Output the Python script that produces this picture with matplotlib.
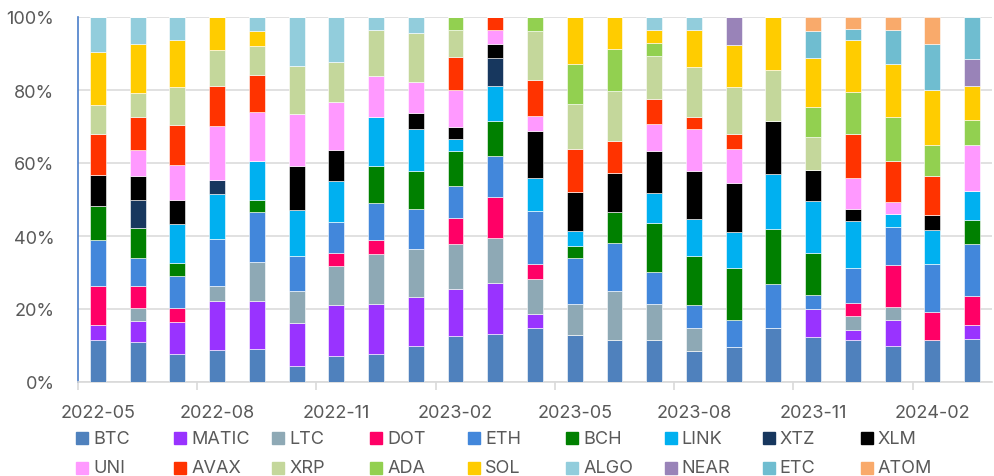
import matplotlib
matplotlib.use("Agg")
import matplotlib.pyplot as plt
import numpy as np
import pandas as pd
from matplotlib.patches import Rectangle

months = [str(p) for p in pd.period_range("2022-05", "2024-03", freq="M")]

series_names = ["BTC", "MATIC", "LTC", "DOT", "ETH", "BCH", "LINK", "XTZ", "XLM",
                "UNI", "AVAX", "XRP", "ADA", "SOL", "ALGO", "NEAR", "ETC", "ATOM"]

BTC   = [11.4, 10.9, 7.6, 8.7, 9.0, 4.4, 7.0, 7.6, 9.8, 12.7, 13.1, 14.7, 12.9, 11.6, 11.6, 8.6, 9.5, 14.8, 12.4, 11.4, 10.0, 11.5, 11.8]
MATIC = [4.2, 5.9, 8.9, 13.5, 13.2, 11.8, 14.2, 13.9, 13.6, 12.9, 14.1, 3.8, 0, 0, 0, 0, 0, 0, 7.5, 2.9, 7.1, 0, 3.7]
LTC   = [0, 3.4, 0, 4.2, 10.6, 8.8, 10.6, 13.7, 13.1, 12.2, 12.3, 9.8, 8.4, 13.2, 9.7, 6.2, 0, 0, 0, 3.7, 3.5, 0, 0]
DOT   = [10.6, 6.0, 3.7, 0, 0, 0, 3.6, 3.7, 0, 7.1, 11.1, 4.0, 0, 0, 0, 0, 0, 0, 0, 3.7, 11.6, 7.8, 8.1]
ETH   = [12.7, 7.8, 8.8, 12.7, 13.6, 9.4, 8.4, 10.1, 10.9, 8.9, 11.2, 14.4, 12.7, 13.3, 8.8, 6.2, 7.6, 12.1, 3.9, 9.4, 10.4, 13.1, 14.2]
BCH   = [9.2, 8.1, 3.7, 0, 3.5, 0, 0, 10.3, 10.4, 9.5, 9.6, 0, 3.4, 8.4, 13.6, 13.5, 14.1, 15.1, 11.5, 0, 0, 0, 6.6]
LINK  = [0, 0, 10.5, 12.4, 10.6, 12.7, 11.2, 13.5, 11.6, 3.4, 9.6, 9.0, 4.0, 0, 8.1, 10.1, 9.8, 15.0, 14.3, 13.1, 3.6, 9.4, 7.8]
XTZ   = [0, 7.9, 0, 3.9, 0, 0, 0, 0, 0, 0, 7.7, 0, 0, 0, 0, 0, 0, 0, 0, 0, 0, 0, 0]
XLM   = [8.7, 6.5, 6.7, 0, 0, 12.2, 8.6, 0, 4.4, 3.2, 3.9, 13.1, 10.8, 10.7, 11.5, 13.1, 13.7, 14.3, 8.3, 3.3, 0, 4.1, 0]
UNI   = [0, 7.1, 9.6, 14.6, 13.4, 14.1, 13.1, 11.0, 8.4, 10.0, 3.9, 4.0, 0, 0, 7.4, 11.7, 9.3, 0, 0, 8.3, 3.1, 0, 12.8]
AVAX  = [11.1, 8.9, 11.0, 11.0, 10.2, 0, 0, 0, 0, 9.2, 3.5, 9.9, 11.7, 8.9, 6.8, 3.3, 4.0, 0, 0, 12.2, 11.4, 10.7, 0]
XRP   = [7.9, 6.8, 10.3, 10.0, 7.9, 13.2, 11.0, 12.6, 13.6, 7.3, 0, 13.4, 12.3, 13.5, 12.0, 13.7, 13.0, 14.2, 9.1, 0, 0, 0, 0]
ADA   = [0, 0, 0, 0, 0, 0, 0, 0, 0, 3.6, 0, 3.8, 11.0, 11.7, 3.5, 0, 0, 0, 8.1, 11.5, 11.9, 8.4, 6.9]
SOL   = [14.7, 13.2, 13.1, 8.9, 4.0, 0, 0, 0, 0, 0, 0, 0, 12.9, 8.7, 3.4, 10.0, 11.4, 14.4, 13.6, 14.2, 14.7, 15.0, 9.2]
ALGO  = [9.5, 7.5, 6.2, 0, 3.9, 13.4, 12.4, 3.7, 4.3, 0, 0, 0, 0, 0, 3.7, 3.6, 0, 0, 0, 0, 0, 0, 0]
NEAR  = [0, 0, 0, 0, 0, 0, 0, 0, 0, 0, 0, 0, 0, 0, 0, 0, 7.7, 0, 0, 0, 0, 0, 7.3]
ETC   = [0, 0, 0, 0, 0, 0, 0, 0, 0, 0, 0, 0, 0, 0, 0, 0, 0, 0, 7.4, 2.9, 9.3, 12.7, 11.6]
ATOM  = [0, 0, 0, 0, 0, 0, 0, 0, 0, 0, 0, 0, 0, 0, 0, 0, 0, 0, 3.7, 3.4, 3.5, 7.4, 0]

colors = ["#4F81BD", "#9933FF", "#8EA9B5", "#FF0066", "#4287DB", "#008000", "#00B0F0",
          "#17375E", "#000000", "#FF99FF", "#FF3300", "#C4D79B", "#92D050", "#FFCC00",
          "#92CDDC", "#9983B8", "#6FBDD0", "#F9AA6B"]

data = [BTC, MATIC, LTC, DOT, ETH, BCH, LINK, XTZ, XLM, UNI, AVAX, XRP, ADA, SOL,
        ALGO, NEAR, ETC, ATOM]

arr = np.array(data, dtype=float)
arr = arr / arr.sum(axis=0) * 100.0

plt.rcParams["font.family"] = ["Inter", "DejaVu Sans"]
W, H = 995, 477
fig = plt.figure(figsize=(W / 100, H / 100), dpi=100)
ax = fig.add_axes([78 / W, 1 - 383 / H, 914 / W, 365 / H])

x = np.arange(len(months))
bottom = np.zeros(len(months))
for name, vals, c in zip(series_names, arr, colors):
    ax.bar(x, vals, bottom=bottom, width=0.4, color=c, edgecolor="white",
           linewidth=0.4, label=name, zorder=3)
    bottom += vals

ax.set_xlim(-0.5, len(months) - 0.5)
ax.set_ylim(0, 100)
ax.set_yticks(np.arange(0, 101, 20))
ax.set_yticklabels([f"{v}%" for v in range(0, 101, 20)])
ax.yaxis.grid(True, color="#D9D9D9", linewidth=1.1, zorder=0)
ax.set_axisbelow(True)

major = x[::3]
ax.set_xticks(major)
ax.set_xticklabels([months[i] for i in major])
ax.set_xticks(major - 0.5, minor=True)
ax.tick_params(axis="x", which="major", length=0, pad=16, labelsize=13, labelcolor="#595959")
ax.tick_params(axis="x", which="minor", length=6, width=1.2, color="#D9D9D9")
ax.tick_params(axis="y", length=0, pad=17, labelsize=13, labelcolor="#595959")

for s in ["top", "right"]:
    ax.spines[s].set_visible(False)
ax.spines["bottom"].set_color("#D9D9D9")
ax.spines["bottom"].set_linewidth(1.2)
ax.spines["left"].set_color("#4A7EC9")
ax.spines["left"].set_linewidth(1.2)

# legend: 9 columns, 2 rows
for i, (name, c) in enumerate(zip(series_names, colors)):
    row, col = divmod(i, 9)
    px = 76 + col * 98.1
    py = 439 + row * 30
    fig.patches.append(Rectangle((px / W, 1 - (py + 6) / H), 12 / W, 12 / H,
                                 transform=fig.transFigure, color=c, figure=fig))
    fig.text((px + 17) / W, 1 - py / H, name, ha="left", va="center",
             fontsize=13, color="#595959")

fig.savefig("out.png", dpi=100)
